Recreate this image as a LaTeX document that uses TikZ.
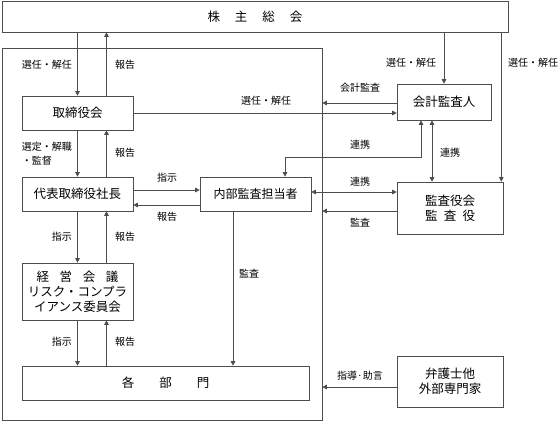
\documentclass[tikz,border=0pt]{standalone}
\usepackage{fontspec}
\setmainfont{Noto Sans CJK JP}
\usetikzlibrary{positioning,arrows.meta,calc}
\definecolor{inkgrey}{HTML}{4D4D4D}
\tikzset{
  cg/.style={draw=inkgrey, line width=0.6pt, fill=white, align=center, inner sep=0pt,
             font=\fontsize{12.5}{15}\selectfont},
  cg box/.style={cg, minimum width=111pt, minimum height=34pt},
  cg side/.style={cg, minimum width=106pt, minimum height=52pt},
  cg arr/.style={-{Triangle[length=4.5pt,width=4.5pt]}, line width=0.6pt, inkgrey},
  cg both/.style={{Triangle[length=4.5pt,width=4.5pt]}-{Triangle[length=4.5pt,width=4.5pt]}, line width=0.6pt, inkgrey},
  cg lab/.style={font=\fontsize{10}{14}\selectfont, inner sep=1pt, align=left},
}

\begin{document}
\begin{tikzpicture}[x=1pt, y=-1pt]
  \useasboundingbox (0,0) rectangle (560,421);
  % shareholders and the company frame
  \node[cg, minimum width=506pt, minimum height=31pt] (soukai) at (255,16.5) {株\hspace{1.2em}主\hspace{1.2em}総\hspace{1.2em}会};
  \node[cg, fill=none, minimum width=320pt, minimum height=372pt] (org) at (162,234) {};
  % inside the company
  \node[cg box] (board)  at (77.5,113) {取締役会};
  \node[cg box] (pres)   at (77.5,194) {代表取締役社長};
  \node[cg box, font=\fontsize{12}{15}\selectfont] (audit) at (255.5,194) {内部監査担当者};
  \node[cg box, minimum height=57pt] (mgmt) at (77.5,291.5) {経\hspace{0.85em}営\hspace{0.85em}会\hspace{0.85em}議\\リスク・コンプラ\\イアンス委員会};
  \node[cg, minimum width=287pt, minimum height=34pt] (dept) at (165.5,383) {各\hspace{2em}部\hspace{2em}門};
  % outside the company
  \node[cg, minimum width=94pt, minimum height=36pt] (acct) at (444,102) {会計監査人};
  \node[cg side] (kansa) at (450,208) {監査役会\\監\hspace{0.5em}査\hspace{0.5em}役};
  \node[cg side, minimum height=51pt] (lawyer) at (450,381.5) {弁護士他\\外部専門家};
  % vertical chain on the left
  \draw[cg arr] (soukai.south -| board.north) -- (board.north);
  \draw[cg arr] ([xshift=29pt]board.north) -- ([xshift=29pt]board.north |- soukai.south);
  \foreach \a/\b in {board/pres, pres/mgmt, mgmt/dept} {
    \draw[cg arr] (\a.south) -- (\a.south |- \b.north);
    \draw[cg arr] ([xshift=29pt]\a.south |- \b.north) -- ([xshift=29pt]\a.south);
  }
  \draw[cg arr] ([yshift=4pt]pres.east) -- ([yshift=4pt]pres.east -| audit.west);
  \draw[cg arr] ([yshift=-11pt]audit.west) -- ([yshift=-11pt]audit.west -| pres.east);
  \draw[cg arr] ([xshift=-22.5pt]audit.south) -- ([xshift=-22.5pt]audit.south |- dept.north);
  % links to the right-hand side
  \draw[cg arr] (soukai.south -| acct.north) -- (acct.north);
  \draw[cg arr] ([xshift=-2pt]kansa.north east |- soukai.south) -- ([xshift=-2pt]kansa.north east);
  \draw[cg arr] (board.east) -- (board.east -| acct.west);
  \draw[cg arr] ([yshift=-1pt]acct.west) -- ([yshift=-1pt]acct.west -| org.east);
  \draw[cg both] ([xshift=-23pt]acct.south) |- ([xshift=29.5pt,yshift=19pt]audit.north) -- ([xshift=29.5pt]audit.north);
  \draw[cg both] ([xshift=-12pt]acct.south) -- ([xshift=-12pt]acct.south |- kansa.north);
  \draw[cg both] ([yshift=16pt]kansa.west) -- ([yshift=16pt]kansa.west -| audit.east);
  \draw[cg arr] ([yshift=-3pt]kansa.west) -- ([yshift=-3pt]kansa.west -| org.east);
  \draw[cg arr] ([yshift=-5.5pt]lawyer.west) -- ([yshift=-5.5pt]lawyer.west -| org.east);
  % labels
  \node[cg lab, anchor=east] (lsel1) at (73,65) {選任・解任};
  \node[cg lab, anchor=west] (lrep1) at (114,65) {報告};
  \node[cg lab, anchor=east] (lsel2) at (73,154) {選定・解職\\・監督};
  \node[cg lab, anchor=west] (lrep2) at (114,153) {報告};
  \node[cg lab, anchor=east] (lord1) at (73,237) {指示};
  \node[cg lab, anchor=west] (lrep3) at (114,237) {報告};
  \node[cg lab, anchor=east] (lord2) at (73,342) {指示};
  \node[cg lab, anchor=west] (lrep4) at (114,342) {報告};
  \node[cg lab] (lord3) at (167,178) {指示};
  \node[cg lab] (lrep5) at (167,217) {報告};
  \node[cg lab, anchor=west] (laud1) at (238,274) {監査};
  \node[cg lab] (lsel3) at (266,101) {選任・解任};
  \node[cg lab] (lacc)  at (360,88)  {会計監査};
  \node[cg lab] (lsel4) at (411,63)  {選任・解任};
  \node[cg lab] (lsel5) at (533,63)  {選任・解任};
  \node[cg lab] (lco1)  at (360,145) {連携};
  \node[cg lab] (lco2)  at (450,153) {連携};
  \node[cg lab] (lco3)  at (360,182) {連携};
  \node[cg lab] (laud2) at (360,223) {監査};
  \node[cg lab] (ladv)  at (360,376) {指導·助言};
\end{tikzpicture}
\end{document}
